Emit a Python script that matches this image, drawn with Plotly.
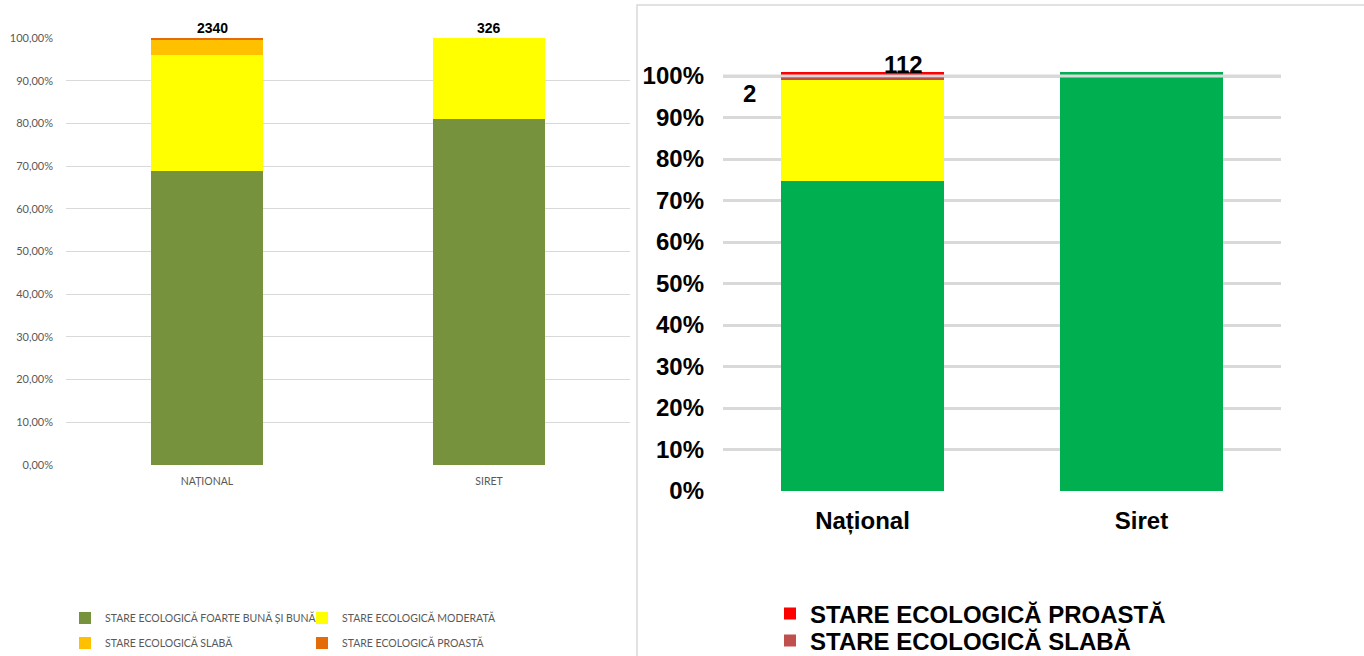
import plotly.graph_objects as go

# ---------------- data ----------------
left_categories = ["NAȚIONAL", "SIRET"]
left_series_names = [
    "STARE ECOLOGICĂ FOARTE BUNĂ ȘI BUNĂ",
    "STARE ECOLOGICĂ MODERATĂ",
    "STARE ECOLOGICĂ SLABĂ",
    "STARE ECOLOGICĂ PROASTĂ",
]
left_foarte_buna = [68.9, 81.0]
left_moderata = [27.1, 19.0]
left_slaba = [3.6, 0.0]
left_proasta = [0.4, 0.0]
left_totals = ["2340", "326"]
left_ticks = [0, 10, 20, 30, 40, 50, 60, 70, 80, 90, 100]
left_ticktext = ["0,00%", "10,00%", "20,00%", "30,00%", "40,00%", "50,00%",
                 "60,00%", "70,00%", "80,00%", "90,00%", "100,00%"]

right_categories = ["Național", "Siret"]
right_foarte_buna = [74.8, 101.0]
right_moderata = [24.2, 0.0]
right_slaba = [0.5, 0.0]
right_proasta = [1.5, 0.0]
right_label_proasta = "112"
right_label_slaba = "2"
right_ticks = [0, 10, 20, 30, 40, 50, 60, 70, 80, 90, 100]
right_ticktext = ["0%", "10%", "20%", "30%", "40%", "50%", "60%", "70%", "80%", "90%", "100%"]

# ---------------- styles ----------------
W, H = 1364, 656
left_colors = ["#76923C", "#FFFF00", "#FFC000", "#E36C09"]
right_colors = ["#00B050", "#FFFF00", "#C0504D", "#FF0000"]
LFONT = "Lato, 'Liberation Sans', sans-serif"
RFONT = "'Liberation Sans', Arial, sans-serif"
RSIZE = 24
GRID = "#D9D9D9"

fig = go.Figure()

left_vals = [left_foarte_buna, left_moderata, left_slaba, left_proasta]
left_leg = ["legend", "legend", "legend2", "legend2"]
for name, vals, col, lg in zip(left_series_names, left_vals, left_colors, left_leg):
    fig.add_trace(go.Bar(
        x=left_categories, y=vals, name=name, marker=dict(color=col, line=dict(width=0)),
        width=0.4, xaxis="x", yaxis="y", legend=lg, hoverinfo="skip",
    ))

right_vals = [right_foarte_buna, right_moderata, right_slaba, right_proasta]
right_show = [False, False, True, True]
right_leg = ["legend3", "legend3", "legend4", "legend3"]
for name, vals, col, show, lg in zip(left_series_names, right_vals, right_colors, right_show, right_leg):
    fig.add_trace(go.Bar(
        x=right_categories, y=vals, name=name, marker=dict(color=col, line=dict(width=0)),
        width=0.585, xaxis="x2", yaxis="y2", showlegend=show, legend=lg, hoverinfo="skip",
    ))

annotations = []
for cat, txt, xs in zip(left_categories, left_totals, [5, 0]):
    annotations.append(dict(
        x=cat, y=100, xref="x", yref="y", text=f"<b>{txt}</b>", showarrow=False,
        yanchor="bottom", yshift=0, xshift=xs,
        font=dict(family=RFONT, size=14, color="black"),
    ))
annotations.append(dict(
    x=right_categories[0], y=100, xref="x2", yref="y2", text=f"<b>{right_label_proasta}</b>",
    showarrow=False, xshift=41, yshift=12, yanchor="middle",
    font=dict(family=RFONT, size=RSIZE, color="black"),
))
annotations.append(dict(
    x=right_categories[0], y=100, xref="x2", yref="y2", text=f"<b>{right_label_slaba}</b>",
    showarrow=False, xshift=-113, yshift=-17, yanchor="middle",
    font=dict(family=RFONT, size=RSIZE, color="black"),
))

shapes = [
    # right panel frame
    dict(type="rect", xref="paper", yref="paper", x0=637 / W, x1=1.02, y0=-0.02, y1=1 - 5 / H,
         line=dict(color=GRID, width=1.5), fillcolor="rgba(0,0,0,0)", layer="below"),
    # 100% gridline drawn over the bars in the right chart
    dict(type="line", xref="x2 domain", yref="y2", x0=0, x1=1, y0=100, y1=100,
         line=dict(color=GRID, width=3), layer="above"),
]

fig.update_layout(
    width=W, height=H, margin=dict(l=0, r=0, t=0, b=0, autoexpand=False),
    paper_bgcolor="white", plot_bgcolor="white",
    barmode="stack", showlegend=True,
    xaxis=dict(domain=[66 / W, 630 / W], anchor="y", showgrid=False, zeroline=False,
               showline=False, ticks="", ticklabelstandoff=8, automargin=False,
               tickfont=dict(family=LFONT, size=10.5, color="#595959")),
    yaxis=dict(domain=[1 - 465 / H, 1 - 38 / H], anchor="x", range=[0, 100],
               tickvals=left_ticks, ticktext=left_ticktext, showgrid=True, automargin=False,
               gridcolor=GRID, gridwidth=1, zeroline=False, showline=False, ticks="",
               ticklabelstandoff=12,
               tickfont=dict(family=LFONT, size=11, color="#595959")),
    xaxis2=dict(domain=[723 / W, 1281 / W], anchor="y2", showgrid=False, zeroline=False,
                showline=False, ticks="", ticklabelstandoff=13, automargin=False,
                tickfont=dict(family=RFONT, size=RSIZE, color="black", weight="bold")),
    yaxis2=dict(domain=[1 - 491 / H, 1 - (76 - 2 * 4.15) / H], anchor="x2", range=[0, 102],
                tickvals=right_ticks, ticktext=right_ticktext, showgrid=True, automargin=False,
                gridcolor=GRID, gridwidth=3, zeroline=False, showline=False, ticks="",
                ticklabelstandoff=18,
                tickfont=dict(family=RFONT, size=RSIZE, color="black", weight="bold")),
    legend=dict(orientation="h", x=65 / W, xanchor="left", y=1 - 618 / H, yanchor="middle",
                entrywidth=192, entrywidthmode="pixels", traceorder="normal",
                font=dict(family=LFONT, size=10.5, color="#595959"), bgcolor="rgba(0,0,0,0)"),
    legend2=dict(orientation="h", x=65 / W, xanchor="left", y=1 - 643 / H, yanchor="middle",
                 entrywidth=192, entrywidthmode="pixels", traceorder="normal",
                 font=dict(family=LFONT, size=10.5, color="#595959"), bgcolor="rgba(0,0,0,0)"),
    legend3=dict(orientation="v", x=770 / W, xanchor="left", y=1 - 614 / H, yanchor="middle",
                 font=dict(family=RFONT, size=RSIZE, color="black", weight="bold"),
                 bgcolor="rgba(0,0,0,0)"),
    legend4=dict(orientation="v", x=770 / W, xanchor="left", y=1 - 641 / H, yanchor="middle",
                 font=dict(family=RFONT, size=RSIZE, color="black", weight="bold"),
                 bgcolor="rgba(0,0,0,0)"),
    annotations=annotations,
    shapes=shapes,
)

fig.write_html("out.html")
